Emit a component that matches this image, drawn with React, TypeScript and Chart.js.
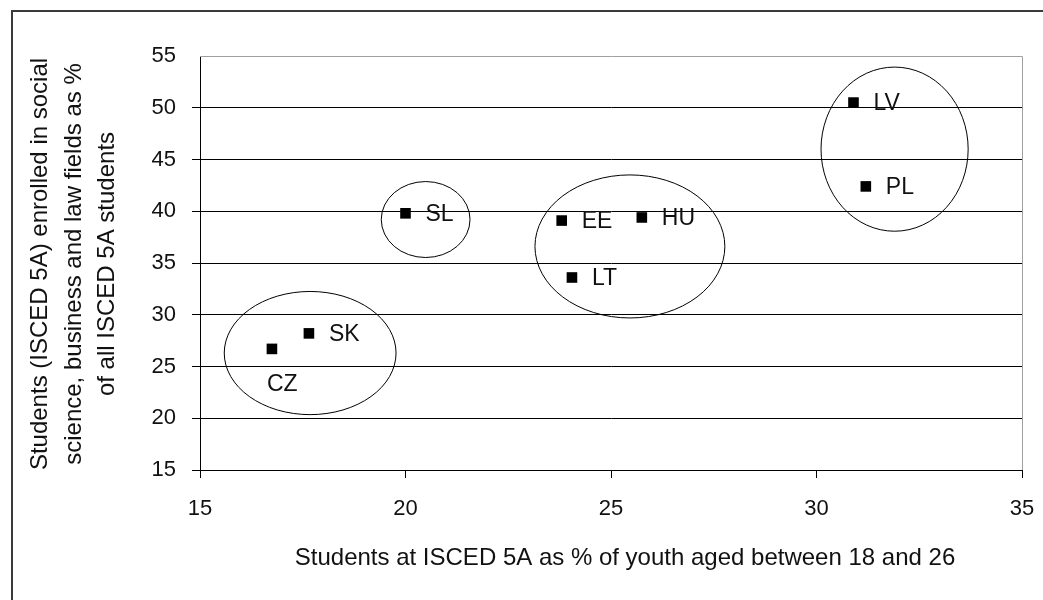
import React, { useEffect, useRef } from "react";
import { Chart, registerables } from "chart.js";

Chart.register(...registerables);

const countries = ["CZ", "SK", "SL", "EE", "HU", "LT", "LV", "PL"];
const youthShare = [16.75, 17.65, 20.0, 23.8, 25.75, 24.05, 30.9, 31.2];
const socialShare = [26.7, 28.2, 39.8, 39.1, 39.4, 33.6, 50.5, 42.4];

const xTicks = [15, 20, 25, 30, 35];
const yTicks = [15, 20, 25, 30, 35, 40, 45, 50, 55];

// groups circled in the figure (data units: centre x, centre y, half-width, half-height)
const groupCx = [17.68, 20.49, 25.46, 31.9];
const groupCy = [26.3, 39.2, 36.6, 46.0];
const groupRx = [2.09, 1.08, 2.31, 1.79];
const groupRy = [5.95, 3.67, 6.91, 7.93];

const xTitle = "Students at ISCED 5A as % of youth aged between 18 and 26";
const yTitle = [
  "Students (ISCED 5A) enrolled in social",
  "science, business and law fields as %",
  "of all ISCED 5A students",
];

const FONT = "'Liberation Sans', Arial, sans-serif";

const decorPlugin = {
  id: "decor",
  beforeDraw(chart: any) {
    const ctx = chart.ctx;
    ctx.save();
    ctx.fillStyle = "#ffffff";
    ctx.fillRect(0, 0, chart.width, chart.height);
    ctx.strokeStyle = "#3a3a3a";
    ctx.lineWidth = 2;
    ctx.strokeRect(12, 11, chart.width + 20, chart.height + 20);
    ctx.restore();
  },
  afterDatasetsDraw(chart: any) {
    const ctx = chart.ctx;
    const xs = chart.scales.x;
    const ys = chart.scales.y;
    const area = chart.chartArea;
    ctx.save();
    // plot area border (grey) top and right
    ctx.strokeStyle = "#a0a0a0";
    ctx.lineWidth = 1;
    ctx.beginPath();
    ctx.moveTo(area.left, area.top + 0.5);
    ctx.lineTo(area.right + 0.5, area.top + 0.5);
    ctx.lineTo(area.right + 0.5, area.bottom);
    ctx.stroke();

    // ellipses
    ctx.strokeStyle = "#000000";
    ctx.lineWidth = 1;
    for (let i = 0; i < groupCx.length; i++) {
      const cx = xs.getPixelForValue(groupCx[i]);
      const cy = ys.getPixelForValue(groupCy[i]);
      const rx = Math.abs(xs.getPixelForValue(groupCx[i] + groupRx[i]) - cx);
      const ry = Math.abs(ys.getPixelForValue(groupCy[i] + groupRy[i]) - cy);
      ctx.beginPath();
      ctx.ellipse(cx, cy, rx, ry, 0, 0, Math.PI * 2);
      ctx.stroke();
    }

    // point labels
    ctx.fillStyle = "#111111";
    ctx.font = `23px ${FONT}`;
    ctx.textBaseline = "middle";
    ctx.textAlign = "left";
    for (let i = 0; i < countries.length; i++) {
      const px = xs.getPixelForValue(youthShare[i]);
      const py = ys.getPixelForValue(socialShare[i]);
      if (countries[i] === "CZ") {
        ctx.fillText(countries[i], px - 5, py + 36);
      } else {
        ctx.fillText(countries[i], px + 20, py + 1);
      }
    }

    // axis titles
    ctx.font = `24px ${FONT}`;
    ctx.textAlign = "center";
    ctx.fillText(xTitle, 625, 558);
    const midY = 264;
    const lineXs = [40, 74, 107];
    for (let i = 0; i < yTitle.length; i++) {
      ctx.save();
      ctx.translate(lineXs[i], midY);
      ctx.rotate(-Math.PI / 2);
      ctx.fillText(yTitle[i], 0, 0);
      ctx.restore();
    }
    ctx.restore();
  },
};

export default function App() {
  const ref = useRef<HTMLCanvasElement | null>(null);
  useEffect(() => {
    if (!ref.current) return;
    const chart = new Chart(ref.current, {
      type: "scatter",
      data: {
        datasets: [
          {
            label: "countries",
            data: youthShare.map((x, i) => ({ x, y: socialShare[i] })),
            pointStyle: "rect",
            pointRadius: 7.5,
            pointHoverRadius: 7.5,
            pointBorderWidth: 0,
            backgroundColor: "#000000",
            borderColor: "#000000",
          },
        ],
      },
      options: {
        responsive: false,
        animation: false,
        events: [],
        layout: { padding: { left: 0, top: 56, right: 21, bottom: 0 } },
        plugins: {
          legend: { display: false },
          tooltip: { enabled: false },
          title: { display: false },
        },
        scales: {
          x: {
            type: "linear",
            min: 15,
            max: 35,
            afterBuildTicks: (s: any) => {
              s.ticks = xTicks.map((v) => ({ value: v }));
            },
            afterFit: (s: any) => {
              s.height = 130;
              s.paddingLeft = 0;
              s.paddingRight = 0;
            },
            grid: {
              drawOnChartArea: false,
              drawTicks: true,
              tickLength: 8,
              color: "#000000",
              lineWidth: 1,
            },
            border: { color: "#000000", width: 1 },
            ticks: {
              color: "#111111",
              font: { family: FONT, size: 22 },
              padding: 18,
              maxRotation: 0,
            },
          },
          y: {
            type: "linear",
            min: 15,
            max: 55,
            afterBuildTicks: (s: any) => {
              s.ticks = yTicks.map((v) => ({ value: v }));
            },
            afterFit: (s: any) => {
              s.width = 200;
            },
            grid: {
              drawOnChartArea: true,
              drawTicks: true,
              tickLength: 8,
              color: (c: any) => (c.tick && c.tick.value === 55 ? "rgba(0,0,0,0)" : "#000000"),
              lineWidth: 1,
            },
            border: { color: "#000000", width: 1 },
            ticks: {
              color: "#111111",
              font: { family: FONT, size: 22 },
              padding: 16,
            },
          },
        },
      },
      plugins: [decorPlugin],
    });
    return () => chart.destroy();
  }, []);
  return (
    <div style={{ position: "absolute", left: 0, top: 0, width: 1043, height: 600, background: "#fff" }}>
      <canvas ref={ref} width={1043} height={600} style={{ display: "block" }} />
    </div>
  );
}
